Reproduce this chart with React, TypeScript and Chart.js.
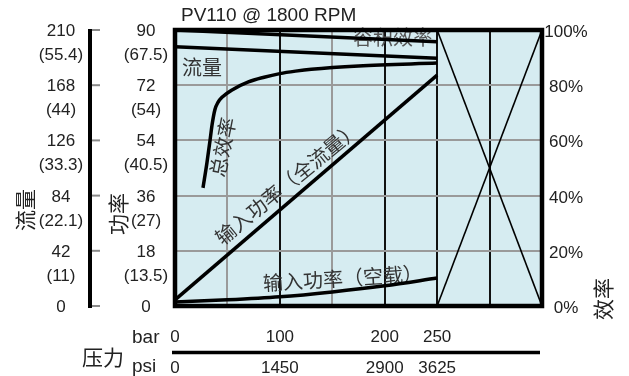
import React, { useEffect, useRef } from 'react';
import { Chart, registerables } from 'chart.js';

Chart.register(...registerables);

// ---------- data ----------
const titleText = 'PV110 @ 1800 RPM';

const pressureTicksBar = [0, 100, 200, 250];
const pressureTicksPsi = ['0', '1450', '2900', '3625'];
const flowTicks = [0, 42, 84, 126, 168, 210];
const flowTicksAlt = ['', '(11)', '(22.1)', '(33.3)', '(44)', '(55.4)'];
const powerTicks = [0, 18, 36, 54, 72, 90];
const powerTicksAlt = ['', '(13.5)', '(27)', '(40.5)', '(54)', '(67.5)'];
const effTicks = [0, 20, 40, 60, 80, 100];

const volEffPressure = [0, 250];
const volEffValues = [100, 95.7];

const flowPressure = [0, 250];
const flowValues = [197.3, 188.5];

const overallEffPressure = [26.7, 30.5, 33.4, 35.5, 38.1, 41, 44.8, 54.4, 70, 85, 100, 115, 130, 175, 250];
const overallEffValues = [42.8, 52.0, 60.0, 66.0, 71.2, 73.8, 75.6, 78.3, 81.2, 82.9, 84.2, 85.1, 85.8, 87.0, 88.0];

const fullPowerPressure = [0, 250];
const fullPowerValues = [2.0, 75.3];

const noLoadPressure = [0, 50, 100, 150, 200, 250];
const noLoadValues = [1.3, 2.0, 3.0, 4.6, 6.6, 9.1];

const outOfRangePressure = [250, 350];
const crossDownValues = [100, 0];
const crossUpValues = [0, 100];

const darkGridPressures = [100, 200, 250, 300];

// ---------- styles ----------
const LAT = '"Liberation Sans", Arial, sans-serif';
const CJK = '"Noto Sans CJK SC", sans-serif';
const TXT = '#222';
const BG = '#d6ecf1';
const GRID = '#9a9a9a';

const pts = (xs: number[], ys: number[]) => xs.map((x, i) => ({ x, y: ys[i] }));

function drawRot(ctx: CanvasRenderingContext2D, text: string, x: number, y: number, deg: number, font: string, color: string) {
  ctx.save();
  ctx.translate(x, y);
  ctx.rotate((deg * Math.PI) / 180);
  ctx.font = font;
  ctx.fillStyle = color;
  ctx.textAlign = 'center';
  ctx.textBaseline = 'middle';
  ctx.fillText(text, 0, 0);
  ctx.restore();
}

const decor = {
  id: 'decor',
  beforeDraw(chart: any) {
    const { ctx, chartArea: a } = chart;
    ctx.save();
    ctx.fillStyle = BG;
    ctx.fillRect(a.left, a.top, a.right - a.left, a.bottom - a.top);
    ctx.restore();
  },
  beforeDatasetsDraw(chart: any) {
    const { ctx } = chart;
    const sx = chart.scales.x;
    const sp = chart.scales.yPct;
    const px = (v: number) => sx.getPixelForValue(v);
    const py = (v: number) => sp.getPixelForValue(v);
    const f = `20px ${CJK}`;
    const c = '#333';
    drawRot(ctx, '容积效率', px(208), py(97.2), 0, f, '#555');
    drawRot(ctx, '流量', px(25.7), py(86.6), 0, f, c);
    drawRot(ctx, '总效率', px(45.5), py(57.6), -78.7, f, c);
    drawRot(ctx, '输入功率（全流量）', px(107.2), py(44.6), -39.5, f, c);
    drawRot(ctx, '输入功率（空载）', px(160.2), py(10.1), -3.6, f, c);
  },
  afterDatasetsDraw(chart: any) {
    const { ctx, chartArea: a } = chart;
    ctx.save();
    ctx.strokeStyle = '#000';
    ctx.lineWidth = 4.5;
    ctx.strokeRect(a.left, a.top, a.right - a.left, a.bottom - a.top);
    ctx.restore();
  },
  afterDraw(chart: any) {
    const { ctx } = chart;
    const sx = chart.scales.x;
    const sF = chart.scales.yFlow;
    const sP = chart.scales.y;
    const sE = chart.scales.yPct;
    ctx.save();
    ctx.fillStyle = TXT;

    // title
    ctx.font = `19px ${LAT}`;
    ctx.textAlign = 'left';
    ctx.textBaseline = 'alphabetic';
    ctx.fillText(titleText, 181, 21);

    // flow axis line + ticks
    ctx.strokeStyle = '#000';
    ctx.lineWidth = 4;
    ctx.beginPath();
    ctx.moveTo(90, sF.getPixelForValue(210) - 1);
    ctx.lineTo(90, sF.getPixelForValue(0) + 2);
    ctx.stroke();
    ctx.strokeStyle = '#8a8a8a';
    ctx.lineWidth = 2;
    flowTicks.forEach((v) => {
      const y = sF.getPixelForValue(v);
      ctx.beginPath();
      ctx.moveTo(92, y);
      ctx.lineTo(100, y);
      ctx.stroke();
    });

    ctx.font = `17px ${LAT}`;
    ctx.textAlign = 'center';
    flowTicks.forEach((v, i) => {
      const y = sF.getPixelForValue(v);
      ctx.fillText(String(v), 61, y + 6);
      if (flowTicksAlt[i]) ctx.fillText(flowTicksAlt[i], 61, y + 30);
    });
    powerTicks.forEach((v, i) => {
      const y = sP.getPixelForValue(v);
      ctx.fillText(String(v), 146, y + 6);
      if (powerTicksAlt[i]) ctx.fillText(powerTicksAlt[i], 146, y + 30);
    });
    effTicks.forEach((v) => {
      const y = sE.getPixelForValue(v);
      ctx.fillText(v + '%', 566, y + 7);
    });

    // pressure axis
    pressureTicksBar.forEach((v, i) => {
      const x = sx.getPixelForValue(v);
      ctx.fillText(String(v), x, 342);
      ctx.fillText(pressureTicksPsi[i], x, 373);
    });
    ctx.font = `19px ${LAT}`;
    ctx.textAlign = 'left';
    ctx.fillText('bar', 132, 343);
    ctx.fillText('psi', 132, 372);
    ctx.strokeStyle = '#000';
    ctx.lineWidth = 3.5;
    ctx.beginPath();
    ctx.moveTo(172, 352.5);
    ctx.lineTo(540, 352.5);
    ctx.stroke();
    ctx.restore();

    const f = `21px ${CJK}`;
    drawRot(ctx, '压力', 103, 357, 0, f, TXT);
    drawRot(ctx, '流量', 25, 210, -90, f, TXT);
    drawRot(ctx, '功率', 118, 214, -90, f, TXT);
    drawRot(ctx, '效率', 603, 299, -90, f, TXT);
  },
};

export default function App() {
  const ref = useRef<HTMLCanvasElement | null>(null);
  useEffect(() => {
    if (!ref.current) return;
    const line = (label: string, data: any, yAxisID: string, extra: any = {}) => ({
      label,
      data,
      yAxisID,
      borderColor: '#000',
      backgroundColor: '#000',
      borderWidth: 3.5,
      pointRadius: 0,
      fill: false,
      ...extra,
    });
    const chart = new Chart(ref.current, {
      type: 'line',
      data: {
        datasets: [
          line('容积效率', pts(volEffPressure, volEffValues), 'yPct'),
          line('流量', pts(flowPressure, flowValues), 'yFlow'),
          line('总效率', pts(overallEffPressure, overallEffValues), 'yPct', { cubicInterpolationMode: 'monotone' }),
          line('输入功率(全流量)', pts(fullPowerPressure, fullPowerValues), 'y'),
          line('输入功率(空载)', pts(noLoadPressure, noLoadValues), 'y', { cubicInterpolationMode: 'monotone' }),
          line('x1', pts(outOfRangePressure, crossDownValues), 'yPct', { borderWidth: 1.6 }),
          line('x2', pts(outOfRangePressure, crossUpValues), 'yPct', { borderWidth: 1.6 }),
        ],
      },
      options: {
        responsive: false,
        animation: false,
        devicePixelRatio: 1,
        layout: { padding: { top: 30, right: 87, left: 0, bottom: 0 } },
        plugins: { legend: { display: false }, tooltip: { enabled: false }, title: { display: false } },
        scales: {
          x: {
            type: 'linear',
            min: 0,
            max: 350,
            position: 'bottom',
            ticks: { display: false, stepSize: 50 },
            grid: {
              drawTicks: false,
              color: (c: any) => (c.tick && darkGridPressures.includes(c.tick.value) ? '#111' : GRID),
              lineWidth: 2,
            },
            border: { display: false },
            afterFit: (s: any) => {
              s.height = 70;
            },
          },
          y: {
            type: 'linear',
            min: 0,
            max: 90,
            position: 'left',
            ticks: { display: false, stepSize: 18 },
            grid: { drawTicks: false, color: GRID, lineWidth: 2 },
            border: { display: false },
            afterFit: (s: any) => {
              s.width = 175;
            },
          },
          yFlow: { type: 'linear', min: 0, max: 210, position: 'left', display: false },
          yPct: { type: 'linear', min: 0, max: 100, position: 'right', display: false },
        },
      } as any,
      plugins: [decor],
    });
    return () => chart.destroy();
  }, []);
  return (
    <div style={{ position: 'fixed', left: 0, top: 0, width: 629, height: 376, background: '#fff' }}>
      <canvas ref={ref} width={629} height={376} style={{ display: 'block' }} />
    </div>
  );
}
